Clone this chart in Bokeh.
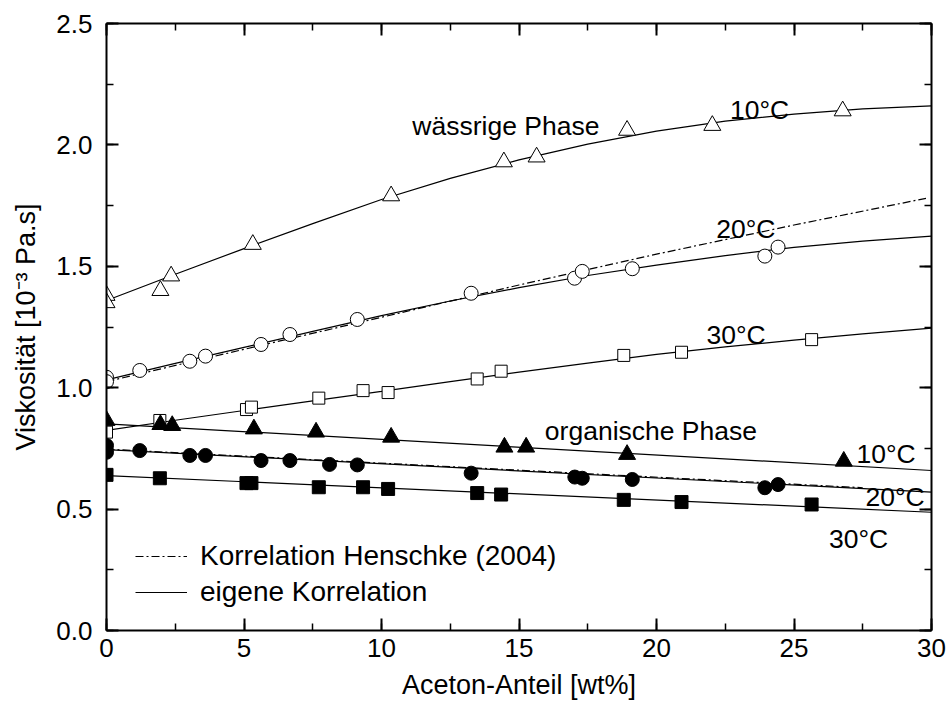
from bokeh.plotting import figure
from bokeh.models import (Range1d, LinearAxis, SingleIntervalTicker, NumeralTickFormatter,
                          Legend, LegendItem, CustomJSTickFormatter)
from bokeh.embed import file_html
from bokeh.resources import INLINE

FONT = "Liberation Sans"

# ---------------- data ----------------
# wässrige Phase, 10 °C (open triangles)
w10_x = [0, 0, 1.96, 2.35, 5.32, 10.35, 14.45, 15.64, 18.93, 22.03, 26.77]
w10_y = [1.38, 1.35, 1.40, 1.46, 1.59, 1.79, 1.93, 1.95, 2.06, 2.08, 2.14]
# wässrige Phase, 20 °C (open circles)
w20_x = [0, 0, 1.21, 3.03, 3.6, 5.62, 6.67, 9.12, 13.26, 17.02, 17.3, 19.12, 23.94, 24.42]
w20_y = [1.043, 1.025, 1.071, 1.109, 1.13, 1.178, 1.219, 1.281, 1.389, 1.451, 1.479, 1.49, 1.542, 1.579]
# wässrige Phase, 30 °C (open squares)
w30_x = [0, 1.94, 5.09, 5.27, 7.72, 9.33, 10.24, 13.48, 14.35, 18.81, 20.91, 25.64]
w30_y = [0.817, 0.865, 0.91, 0.92, 0.957, 0.988, 0.98, 1.036, 1.068, 1.133, 1.146, 1.198]
# organische Phase, 10 °C (filled triangles)
o10_x = [0, 1.96, 2.39, 5.36, 7.62, 10.35, 14.47, 15.26, 18.93, 26.81]
o10_y = [0.865, 0.848, 0.844, 0.83, 0.817, 0.796, 0.755, 0.755, 0.725, 0.697]
# organische Phase, 20 °C (filled circles)
o20_x = [0, 0, 1.21, 3.03, 3.6, 5.62, 6.67, 8.11, 9.12, 13.26, 17.03, 17.3, 19.12, 23.94, 24.42]
o20_y = [0.762, 0.734, 0.741, 0.721, 0.721, 0.70, 0.70, 0.684, 0.682, 0.648, 0.632, 0.627, 0.622, 0.588, 0.601]
# organische Phase, 30 °C (filled squares)
o30_x = [0, 1.94, 5.09, 5.27, 7.72, 9.33, 10.24, 13.48, 14.35, 18.81, 20.91, 25.64]
o30_y = [0.641, 0.627, 0.607, 0.607, 0.59, 0.59, 0.583, 0.566, 0.56, 0.538, 0.529, 0.519]

curve_x = [0, 2.5, 5, 7.5, 10, 12.5, 15, 17.5, 20, 22.5, 25, 27.5, 30]
curve_w10 = [1.359, 1.467, 1.573, 1.676, 1.775, 1.862, 1.938, 2.003, 2.057, 2.098, 2.127, 2.148, 2.161]
curve_w20 = [1.032, 1.100, 1.166, 1.232, 1.297, 1.357, 1.412, 1.462, 1.505, 1.544, 1.578, 1.604, 1.624]
curve_w30 = [0.824, 0.866, 0.906, 0.946, 0.985, 1.025, 1.064, 1.101, 1.137, 1.168, 1.196, 1.222, 1.245]
line_org_x = [0, 30]
curve_o10 = [0.851, 0.659]
curve_o20 = [0.745, 0.570]
curve_o30 = [0.638, 0.487]

# Korrelation Henschke (2004) (dash-dot)
hen_w_x = [0, 5, 10, 15, 20, 25, 29.8]
hen_w_y = [1.025, 1.158, 1.29, 1.423, 1.55, 1.67, 1.78]
hen_o_x = [0, 27.5]
hen_o_y = [0.747, 0.588]

x_ticks_interval = 5
y_ticks_interval = 0.5

# ---------------- figure ----------------
p = figure(width=949, height=716, output_backend="svg", toolbar_location=None,
           x_range=Range1d(0, 30), y_range=Range1d(0, 2.5),
           min_border_left=106, min_border_right=18, min_border_top=23, min_border_bottom=86,
           background_fill_color="white", border_fill_color="white")
p.outline_line_color = None
p.xgrid.visible = False
p.ygrid.visible = False

xt = SingleIntervalTicker(interval=x_ticks_interval, num_minor_ticks=2)
yt = SingleIntervalTicker(interval=y_ticks_interval, num_minor_ticks=2)


def style_axis(ax, show_labels):
    ax.axis_line_width = 2
    ax.axis_line_color = "black"
    ax.major_tick_in = 12
    ax.major_tick_out = 0
    ax.minor_tick_in = 7
    ax.minor_tick_out = 0
    ax.major_tick_line_width = 2
    ax.minor_tick_line_width = 1.5
    ax.major_tick_line_color = "black"
    ax.minor_tick_line_color = "black"
    if show_labels:
        ax.major_label_text_font = FONT
        ax.major_label_text_font_size = "26px"
        ax.major_label_text_color = "black"
        ax.axis_label_text_font = FONT
        ax.axis_label_text_font_size = "27px"
        ax.axis_label_text_font_style = "normal"
        ax.axis_label_text_color = "black"
    else:
        ax.formatter = CustomJSTickFormatter(code="return ''")
        ax.major_label_standoff = 0


p.xaxis.ticker = xt
p.yaxis.ticker = yt
p.yaxis.formatter = NumeralTickFormatter(format="0.0")
style_axis(p.xaxis[0], True)
style_axis(p.yaxis[0], True)
p.xaxis.axis_label = "Aceton-Anteil [wt%]"
p.yaxis.axis_label = "Viskosität [10⁻³ Pa.s]"
p.xaxis.major_label_standoff = 8
p.yaxis.major_label_standoff = 14
p.xaxis.axis_label_standoff = 10
p.yaxis.axis_label_standoff = 12

top = LinearAxis(ticker=xt)
right = LinearAxis(ticker=yt)
style_axis(top, False)
style_axis(right, False)
p.add_layout(top, "above")
p.add_layout(right, "right")

# ---------------- curves ----------------
LW = 1.2
solid = p.line(curve_x, curve_w10, line_color="black", line_width=LW)
p.line(curve_x, curve_w20, line_color="black", line_width=LW)
p.line(curve_x, curve_w30, line_color="black", line_width=LW)
p.line(line_org_x, curve_o10, line_color="black", line_width=LW)
p.line(line_org_x, curve_o20, line_color="black", line_width=LW)
p.line(line_org_x, curve_o30, line_color="black", line_width=LW)
dash = p.line(hen_w_x, hen_w_y, line_color="black", line_width=LW, line_dash="8 3 2 3")
p.line(hen_o_x, hen_o_y, line_color="black", line_width=LW, line_dash="8 3 2 3")

# ---------------- markers ----------------
p.scatter(w10_x, w10_y, marker="triangle", size=17, fill_color="white", line_color="black", line_width=1)
p.scatter(w20_x, w20_y, marker="circle", size=14, fill_color="white", line_color="black", line_width=1)
p.scatter(w30_x, w30_y, marker="square", size=12, fill_color="white", line_color="black", line_width=1)
p.scatter(o10_x, o10_y, marker="triangle", size=17, fill_color="black", line_color="black", line_width=1)
p.scatter(o20_x, o20_y, marker="circle", size=14, fill_color="black", line_color="black", line_width=1)
p.scatter(o30_x, o30_y, marker="square", size=13, fill_color="black", line_color="black", line_width=1)

# ---------------- annotations ----------------
ann_text = ["wässrige Phase", "10°C", "20°C", "30°C", "organische Phase", "10°C", "20°C", "30°C"]
ann_x = [11.12, 22.67, 22.17, 21.82, 15.94, 27.27, 27.6, 26.27]
ann_y = [2.076, 2.142, 1.654, 1.215, 0.821, 0.728, 0.549, 0.378]
p.text(ann_x, ann_y, text=ann_text, text_font={"value": FONT}, text_font_size="26.5px",
       text_align="left", text_baseline="alphabetic", text_color="black")

# ---------------- legend ----------------
legend = Legend(items=[LegendItem(label="Korrelation Henschke (2004)", renderers=[dash]),
                       LegendItem(label="eigene Korrelation", renderers=[solid])],
                location=(29, 20), padding=0, margin=0, spacing=0,
                glyph_width=52, glyph_height=36, label_height=36, label_standoff=13,
                label_text_font=FONT, label_text_font_size="28px", label_text_color="black",
                border_line_color=None, background_fill_alpha=0)
p.add_layout(legend, "center")

open("out.html", "w").write(file_html(p, INLINE))
